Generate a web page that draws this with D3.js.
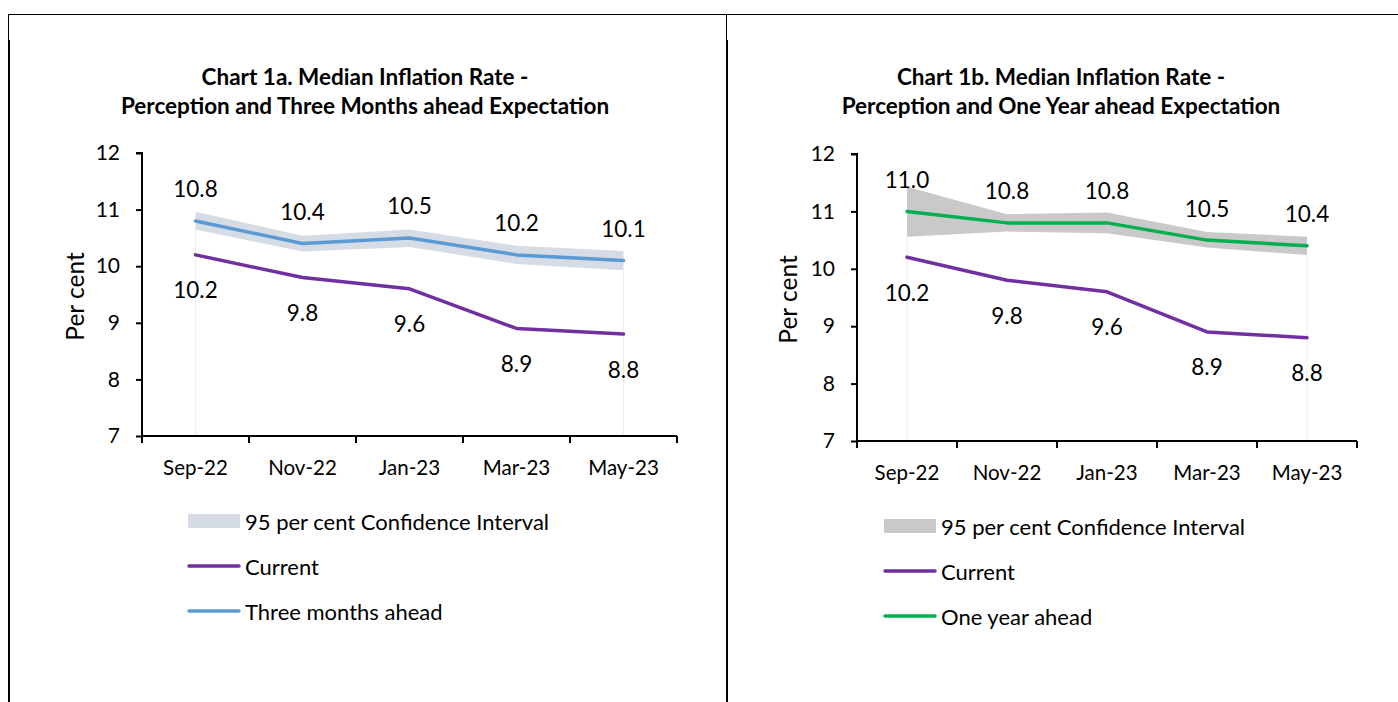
<!DOCTYPE html>
<html>
<head>
<meta charset='utf-8'>
<title>Median Inflation Rate</title>
<style>
  body { margin: 0; background: #fff; }
  text { font-family: 'Lato', 'Open Sans', sans-serif; fill: #000; }
  .title { font-weight: bold; font-size: 22.5px; }
</style>
<script src='https://d3js.org/d3.v7.min.js'></script>
</head>
<body>
<div id="container"></div>
<script>
// ******* Data *******
const categories = ["Sep-22", "Nov-22", "Jan-23", "Mar-23", "May-23"];
const yTicks = [7, 8, 9, 10, 11, 12];

const currentA = [10.2, 9.8, 9.6, 8.9, 8.8];
const threeMonths = [10.8, 10.4, 10.5, 10.2, 10.1];
const threeMonthsLow = [10.65, 10.26, 10.34, 10.04, 9.93];
const threeMonthsHigh = [10.96, 10.54, 10.65, 10.36, 10.27];

const currentB = [10.2, 9.8, 9.6, 8.9, 8.8];
const oneYear = [11.0, 10.8, 10.8, 10.5, 10.4];
const oneYearLow = [10.56, 10.65, 10.62, 10.37, 10.24];
const oneYearHigh = [11.43, 10.95, 10.98, 10.64, 10.56];

// ******* Constants *******
const width = 1398, height = 702;
const purple = "#7030A0";

var svg = d3.select("#container").append("svg")
    .attr("width", width)
    .attr("height", height);

// ******* Frame (table borders) *******
svg.append("line").attr("x1", 8).attr("x2", 1398).attr("y1", 14.5).attr("y2", 14.5)
    .attr("stroke", "#000").attr("stroke-width", 1);
[8.5, 726.5].forEach(function(x) {
  svg.append("line").attr("x1", x).attr("x2", x).attr("y1", 14).attr("y2", 40)
      .attr("stroke", "#000").attr("stroke-width", 1);
  svg.append("line").attr("x1", x + 0.5).attr("x2", x + 0.5).attr("y1", 40).attr("y2", 702)
      .attr("stroke", "#000").attr("stroke-width", 2);
});

function drawPanel(p) {
  var g = svg.append("g");

  var x = d3.scaleBand().domain(categories).range([p.left, p.right]).padding(0);
  var y = d3.scaleLinear().domain([7, 12]).range([p.bottom, p.top]);
  var cx = function(i) { return x(categories[i]) + x.bandwidth() / 2; };

  // titles
  g.append("text").attr("class", "title").attr("x", p.titleX).attr("y", 85)
      .attr("text-anchor", "middle").text(p.title1);
  g.append("text").attr("class", "title").attr("x", p.titleX).attr("y", 114)
      .attr("text-anchor", "middle").text(p.title2);

  // faint drop lines at first and last category
  [0, categories.length - 1].forEach(function(i) {
    g.append("line")
        .attr("x1", cx(i)).attr("x2", cx(i))
        .attr("y1", y(p.low[i])).attr("y2", y(7))
        .attr("stroke", "#ececec").attr("stroke-width", 1);
  });

  // confidence band
  var area = d3.area()
      .x(function(d, i) { return cx(i); })
      .y0(function(d, i) { return y(p.low[i]); })
      .y1(function(d, i) { return y(p.high[i]); });
  g.append("path").datum(p.low).attr("d", area).attr("fill", p.bandColor);

  var line = d3.line()
      .x(function(d, i) { return cx(i); })
      .y(function(d) { return y(d); });

  g.append("path").datum(p.current).attr("d", line)
      .attr("fill", "none").attr("stroke", purple)
      .attr("stroke-width", 3.5).attr("stroke-linecap", "round").attr("stroke-linejoin", "round");
  g.append("path").datum(p.ahead).attr("d", line)
      .attr("fill", "none").attr("stroke", p.aheadColor)
      .attr("stroke-width", 3.5).attr("stroke-linecap", "round").attr("stroke-linejoin", "round");

  // data labels
  g.selectAll(".lab-ahead").data(p.ahead).enter().append("text")
      .attr("x", function(d, i) { return cx(i); })
      .attr("y", function(d) { return y(d) - 32; })
      .attr("text-anchor", "middle").attr("dominant-baseline", "central")
      .style("font-size", "22.5px")
      .text(function(d) { return d.toFixed(1); });
  g.selectAll(".lab-cur").data(p.current).enter().append("text")
      .attr("x", function(d, i) { return cx(i); })
      .attr("y", function(d) { return y(d) + 35; })
      .attr("text-anchor", "middle").attr("dominant-baseline", "central")
      .style("font-size", "22.5px")
      .text(function(d) { return d.toFixed(1); });

  // y axis
  var yAxis = g.append("g")
      .attr("transform", `translate(${p.left}, 0)`)
      .call(d3.axisLeft(y).tickValues(yTicks).tickSize(6).tickPadding(16).tickFormat(d3.format("d")));
  yAxis.select(".domain").attr("stroke", "#000").attr("stroke-width", 2)
      .attr("d", `M-6,${y(12)}H0V${y(7)}`);
  yAxis.selectAll(".tick line").attr("stroke", "#000").attr("stroke-width", 2);
  yAxis.selectAll(".tick text").style("font-size", "21px").style("font-family", "Lato, sans-serif");

  // x axis (ticks between categories)
  var xAxis = g.append("g")
      .attr("transform", `translate(0, ${p.bottom})`)
      .call(d3.axisBottom(x).tickSize(0).tickPadding(24));
  xAxis.select(".domain").attr("stroke", "#000").attr("stroke-width", 2)
      .attr("d", `M${p.left},0H${p.right}`);
  xAxis.selectAll(".tick text").style("font-size", "20.5px").style("font-family", "Lato, sans-serif");
  var edges = categories.map(function(c) { return x(c); }).concat([p.right]);
  xAxis.selectAll(".edge").data(edges).enter().append("line")
      .attr("x1", function(d) { return d; }).attr("x2", function(d) { return d; })
      .attr("y1", 0).attr("y2", 7)
      .attr("stroke", "#000").attr("stroke-width", 2);

  // y axis title
  g.append("text")
      .attr("transform", `translate(${p.yTitleX}, ${(p.top + p.bottom) / 2 + 2}) rotate(-90)`)
      .attr("text-anchor", "middle").attr("dominant-baseline", "central")
      .style("font-size", "24.5px")
      .text("Per cent");

  // legend
  var lg = g.append("g").attr("transform", `translate(${p.legendX}, ${p.legendY})`);
  lg.append("rect").attr("x", 0).attr("y", -7).attr("width", 52).attr("height", 14)
      .attr("fill", p.bandColor);
  lg.append("line").attr("x1", 1).attr("x2", 51).attr("y1", 45).attr("y2", 45)
      .attr("stroke", purple).attr("stroke-width", 3.5).attr("stroke-linecap", "round");
  lg.append("line").attr("x1", 1).attr("x2", 51).attr("y1", 90).attr("y2", 90)
      .attr("stroke", p.aheadColor).attr("stroke-width", 3.5).attr("stroke-linecap", "round");
  [p.legendBand, "Current", p.legendAhead].forEach(function(t, i) {
    lg.append("text").attr("x", 57).attr("y", i * 45)
        .attr("dominant-baseline", "central").style("font-size", "22px").text(t);
  });
}

drawPanel({
  left: 142, right: 677, top: 153, bottom: 436,
  titleX: 365, yTitleX: 74,
  title1: "Chart 1a. Median Inflation Rate -",
  title2: "Perception and Three Months ahead Expectation",
  current: currentA, ahead: threeMonths, low: threeMonthsLow, high: threeMonthsHigh,
  bandColor: "#D6DCE5", aheadColor: "#5B9BD5",
  legendX: 188, legendY: 521,
  legendBand: "95 per cent Confidence Interval", legendAhead: "Three months ahead"
});

drawPanel({
  left: 857, right: 1357, top: 154, bottom: 441,
  titleX: 1061, yTitleX: 787,
  title1: "Chart 1b. Median Inflation Rate -",
  title2: "Perception and One Year ahead Expectation",
  current: currentB, ahead: oneYear, low: oneYearLow, high: oneYearHigh,
  bandColor: "#C9C9C9", aheadColor: "#00B050",
  legendX: 884, legendY: 526,
  legendBand: "95 per cent Confidence Interval", legendAhead: "One year ahead"
});
</script>
</body>
</html>
